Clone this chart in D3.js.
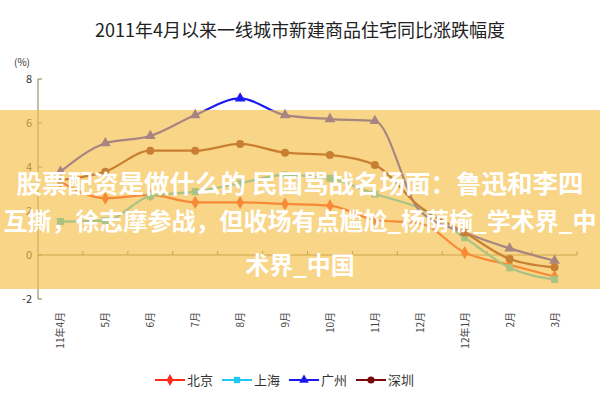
<!DOCTYPE html><html><head><meta charset="utf-8"><script src="https://cdn.jsdelivr.net/npm/d3@7"></script>
<style>body{margin:0;background:#fff}text{font-family:"Noto Sans CJK SC","DejaVu Sans",sans-serif}</style></head><body>
<svg id="c" width="600" height="400"></svg>
<script>
const months=["11年4月","5月","6月","7月","8月","9月","10月","11月","12月","12年1月","2月","3月"];
const beijing=[3.33,2.58,2.73,2.39,2.39,2.32,2.24,1.59,1.44,0.11,-0.45,-0.98];
const shanghai=[1.52,1.56,2.68,2.88,3.26,3.64,3.48,2.77,2.12,0.79,-0.58,-1.11];
const guangzhou=[3.79,5.08,5.41,6.36,7.12,6.36,6.18,6.09,2.0,1.02,0.3,-0.26];
const shenzhen=[3.4,3.79,4.74,4.74,5.05,4.65,4.55,4.09,2.2,1.02,-0.18,-0.56];
const yTicks=[-2,0,2,4,6,8];
const series=[
 {name:"北京",vals:beijing,color:"#ff2a1a",sym:d3.symbolDiamond},
 {name:"上海",vals:shanghai,color:"#22c8f0",sym:d3.symbolSquare},
 {name:"广州",vals:guangzhou,color:"#1a1aee",sym:d3.symbolTriangle},
 {name:"深圳",vals:shenzhen,color:"#7a0a0a",sym:d3.symbolCircle}];
const svg=d3.select("#c");
svg.append("text").attr("x",300).attr("y",37).attr("text-anchor","middle").attr("font-size",18).attr("fill","#222").text("2011年4月以来一线城市新建商品住宅同比涨跌幅度");
const x0=38,x1=577;
const x=d3.scaleBand().domain(months).range([x0,x1]);
const y=d3.scaleLinear().domain([-2,8]).range([299,79]);
const ax="#8a7a50";
svg.append("line").attr("x1",x0).attr("x2",x0).attr("y1",y(8)).attr("y2",y(-2)).attr("stroke",ax);
svg.append("line").attr("x1",x0).attr("x2",x1).attr("y1",y(0)).attr("y2",y(0)).attr("stroke",ax);
yTicks.forEach(t=>{svg.append("line").attr("x1",x0).attr("x2",x0+4).attr("y1",y(t)).attr("y2",y(t)).attr("stroke",ax);
 svg.append("text").attr("x",x0-6).attr("y",y(t)+4).attr("text-anchor","end").attr("font-size",11).attr("fill","#333").attr("font-family","Arial, Liberation Sans").text(t);});
svg.append("text").attr("x",14).attr("y",66).attr("font-size",10).attr("fill","#333").text("(%)");
months.forEach((m,i)=>{const xb=x(m)+x.bandwidth();
 svg.append("line").attr("x1",xb).attr("x2",xb).attr("y1",y(0)).attr("y2",y(0)-4).attr("stroke",ax);
 svg.append("text").attr("transform",`translate(${x(m)+x.bandwidth()/2+4},312) rotate(-90)`).attr("text-anchor","end").attr("font-size",10).attr("fill","#444").text(m);});
const line=d3.line().x((d,i)=>x(months[i])+x.bandwidth()/2).y(d=>y(d)).curve(d3.curveMonotoneX);
series.forEach(s=>{
 svg.append("path").attr("d",line(s.vals)).attr("fill","none").attr("stroke",s.color).attr("stroke-width",2.2);
 s.vals.forEach((v,i)=>{ if(i===8) return;
  svg.append("path").attr("d",d3.symbol().type(s.sym).size(50)()).attr("transform",`translate(${x(months[i])+x.bandwidth()/2},${y(v)})`).attr("fill",s.color);});
});
let lx=155;
series.forEach(s=>{
 svg.append("line").attr("x1",lx).attr("x2",lx+30).attr("y1",380).attr("y2",380).attr("stroke",s.color).attr("stroke-width",2);
 svg.append("path").attr("d",d3.symbol().type(s.sym).size(40)()).attr("transform",`translate(${lx+15},380)`).attr("fill",s.color);
 svg.append("text").attr("x",lx+32).attr("y",385).attr("font-size",13).attr("fill","#333").text(s.name);
 lx+=67;});
svg.append("rect").attr("x",0).attr("y",110).attr("width",600).attr("height",179).attr("fill","rgb(245,190,70)").attr("opacity",0.65);
const ov=[["股票配资是做什么的 民国骂战名场面：鲁迅和李四",300,193,25.5],["互撕，徐志摩参战，但收场有点尴尬_杨荫榆_学术界_中",300,230,24],["术界_中国",300,274,24]];
ov.forEach(o=>svg.append("text").attr("x",o[1]).attr("y",o[2]).attr("text-anchor","middle").attr("font-size",o[3]).attr("font-weight","bold").attr("fill","#fff").text(o[0]));
</script></body></html>
